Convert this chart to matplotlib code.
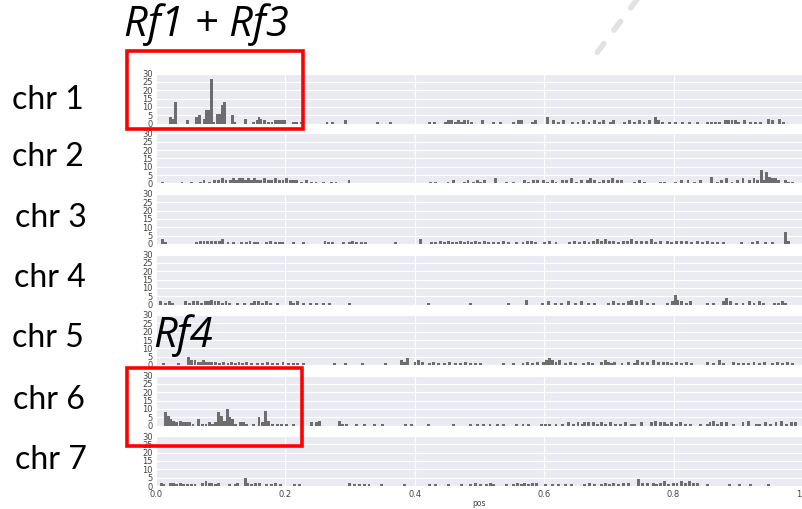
import numpy as np
import matplotlib.pyplot as plt
from matplotlib.lines import Line2D
from matplotlib.patches import Rectangle

# Data: bin position (0-1 along chromosome) and count per bin
chr1_pos = [0.020, 0.024, 0.028, 0.047, 0.060, 0.065, 0.072, 0.076, 0.080, 0.083, 0.087,
            0.093, 0.097, 0.100, 0.104, 0.116, 0.119, 0.136, 0.148, 0.154, 0.157, 0.160,
            0.165, 0.172, 0.177, 0.182, 0.187, 0.192, 0.196, 0.210, 0.215, 0.222, 0.262,
            0.270, 0.290, 0.340, 0.360, 0.420, 0.428, 0.445, 0.450, 0.455, 0.460, 0.465,
            0.470, 0.475, 0.480, 0.486, 0.502, 0.520, 0.530, 0.550, 0.558, 0.562, 0.580,
            0.585, 0.603, 0.612, 0.620, 0.628, 0.642, 0.650, 0.658, 0.667, 0.675, 0.683,
            0.690, 0.700, 0.705, 0.722, 0.730, 0.738, 0.745, 0.752, 0.760, 0.770, 0.774,
            0.780, 0.792, 0.800, 0.812, 0.822, 0.835, 0.850, 0.856, 0.862, 0.868, 0.878,
            0.883, 0.888, 0.893, 0.898, 0.908, 0.916, 0.924, 0.932, 0.944, 0.950, 0.962,
            0.968]
chr1_cnt = [4, 3, 13, 2, 4, 5, 3, 8, 8, 27, 1,
            6, 6, 11, 13, 5, 1, 3, 1, 2, 4, 3,
            2, 1, 1, 2, 2, 2, 2, 1, 1, 1, 1,
            1, 2, 1, 1, 1, 1, 1, 2, 2, 1, 2,
            1, 2, 2, 1, 2, 1, 1, 1, 2, 2, 1,
            2, 4, 2, 1, 2, 1, 1, 2, 1, 2, 1,
            2, 1, 2, 1, 2, 1, 2, 1, 2, 4, 2,
            1, 1, 1, 1, 1, 1, 1, 1, 1, 1, 2,
            2, 2, 2, 1, 2, 1, 1, 1, 3, 2, 3,
            1]

chr2_pos = [0.008, 0.038, 0.053, 0.066, 0.072, 0.081, 0.088, 0.094, 0.100, 0.106, 0.113,
            0.117, 0.122, 0.127, 0.131, 0.136, 0.141, 0.145, 0.150, 0.155, 0.159, 0.165,
            0.171, 0.176, 0.182, 0.188, 0.194, 0.200, 0.205, 0.210, 0.215, 0.222, 0.230,
            0.238, 0.245, 0.256, 0.269, 0.276, 0.296, 0.422, 0.430, 0.449, 0.458, 0.474,
            0.480, 0.488, 0.494, 0.500, 0.506, 0.522, 0.540, 0.550, 0.567, 0.574, 0.581,
            0.588, 0.596, 0.603, 0.610, 0.616, 0.626, 0.632, 0.640, 0.648, 0.656, 0.665,
            0.670, 0.676, 0.683, 0.690, 0.697, 0.704, 0.711, 0.717, 0.737, 0.745, 0.753,
            0.778, 0.784, 0.800, 0.810, 0.820, 0.830, 0.840, 0.857, 0.865, 0.872, 0.880,
            0.888, 0.896, 0.905, 0.915, 0.922, 0.928, 0.933, 0.937, 0.941, 0.946, 0.950,
            0.955, 0.960, 0.970, 0.976, 0.982]
chr2_cnt = [1, 1, 1, 1, 2, 1, 2, 2, 3, 2, 2,
            3, 2, 3, 3, 2, 3, 2, 3, 2, 2, 3,
            2, 2, 3, 2, 2, 3, 2, 2, 2, 1, 2,
            1, 1, 1, 1, 1, 2, 1, 1, 1, 2, 1,
            2, 1, 2, 1, 2, 3, 1, 1, 2, 1, 2,
            2, 2, 1, 2, 1, 2, 2, 3, 1, 2, 2,
            3, 2, 1, 2, 2, 3, 2, 2, 1, 2, 1,
            1, 1, 1, 2, 2, 1, 2, 4, 1, 2, 3,
            1, 2, 3, 2, 3, 2, 8, 2, 7, 4, 3,
            3, 2, 2, 1, 1]

chr3_pos = [0.008, 0.013, 0.060, 0.066, 0.072, 0.078, 0.084, 0.090, 0.096, 0.101, 0.109,
            0.117, 0.130, 0.137, 0.143, 0.150, 0.155, 0.168, 0.175, 0.182, 0.188, 0.193,
            0.210, 0.226, 0.259, 0.265, 0.271, 0.287, 0.297, 0.302, 0.308, 0.315, 0.322,
            0.368, 0.406, 0.424, 0.430, 0.437, 0.444, 0.450, 0.456, 0.462, 0.468, 0.474,
            0.480, 0.486, 0.492, 0.498, 0.505, 0.512, 0.520, 0.527, 0.535, 0.542, 0.555,
            0.565, 0.572, 0.578, 0.585, 0.598, 0.606, 0.616, 0.637, 0.645, 0.652, 0.660,
            0.667, 0.674, 0.680, 0.686, 0.692, 0.698, 0.705, 0.712, 0.720, 0.726, 0.732,
            0.740, 0.748, 0.756, 0.764, 0.770, 0.777, 0.788, 0.795, 0.802, 0.810, 0.818,
            0.826, 0.834, 0.842, 0.850, 0.858, 0.866, 0.875, 0.903, 0.920, 0.928, 0.940,
            0.950, 0.971, 0.976]
chr3_cnt = [3, 1, 1, 2, 2, 2, 2, 2, 2, 3, 1,
            1, 1, 1, 2, 1, 1, 1, 2, 1, 1, 1,
            1, 1, 2, 1, 1, 1, 1, 2, 1, 1, 1,
            1, 3, 1, 1, 2, 1, 2, 1, 1, 2, 1,
            2, 1, 2, 1, 2, 1, 1, 1, 2, 1, 1,
            1, 2, 2, 1, 1, 2, 1, 1, 2, 1, 2,
            1, 2, 3, 2, 3, 2, 2, 1, 2, 2, 3,
            2, 2, 2, 3, 1, 2, 2, 1, 2, 2, 2,
            1, 2, 1, 2, 1, 1, 1, 1, 1, 2, 1,
            1, 7, 2]

chr4_pos = [0.005, 0.012, 0.018, 0.023, 0.043, 0.050, 0.056, 0.062, 0.068, 0.074, 0.079,
            0.084, 0.089, 0.094, 0.100, 0.106, 0.112, 0.124, 0.134, 0.145, 0.150, 0.156,
            0.162, 0.168, 0.175, 0.185, 0.205, 0.210, 0.216, 0.226, 0.236, 0.246, 0.256,
            0.266, 0.297, 0.419, 0.484, 0.542, 0.570, 0.595, 0.605, 0.615, 0.625, 0.636,
            0.646, 0.656, 0.666, 0.676, 0.697, 0.705, 0.713, 0.721, 0.728, 0.733, 0.740,
            0.748, 0.758, 0.766, 0.788, 0.796, 0.800, 0.804, 0.810, 0.817, 0.824, 0.850,
            0.860, 0.875, 0.880, 0.885, 0.895, 0.905, 0.915, 0.922, 0.930, 0.937, 0.953,
            0.960, 0.966, 0.971]
chr4_cnt = [2, 1, 2, 1, 2, 1, 2, 2, 1, 2, 2,
            3, 2, 2, 1, 2, 1, 1, 1, 1, 2, 2,
            1, 2, 1, 1, 2, 1, 2, 1, 1, 1, 1,
            1, 1, 1, 1, 1, 3, 1, 2, 1, 1, 2,
            1, 2, 1, 1, 1, 2, 1, 1, 2, 3, 2,
            3, 1, 1, 1, 2, 6, 3, 2, 1, 2, 1,
            1, 2, 4, 2, 1, 1, 2, 1, 2, 1, 1,
            1, 2, 1]

chr5_pos = [0.010, 0.033, 0.048, 0.053, 0.058, 0.063, 0.066, 0.071, 0.075, 0.079, 0.084,
            0.090, 0.096, 0.102, 0.109, 0.114, 0.120, 0.126, 0.132, 0.138, 0.145, 0.155,
            0.162, 0.170, 0.178, 0.186, 0.194, 0.202, 0.210, 0.216, 0.226, 0.273, 0.291,
            0.317, 0.352, 0.377, 0.382, 0.387, 0.398, 0.404, 0.410, 0.420, 0.427, 0.434,
            0.444, 0.452, 0.460, 0.468, 0.476, 0.484, 0.492, 0.500, 0.535, 0.550, 0.565,
            0.572, 0.580, 0.588, 0.596, 0.601, 0.606, 0.611, 0.616, 0.621, 0.630, 0.638,
            0.646, 0.659, 0.666, 0.672, 0.687, 0.692, 0.697, 0.702, 0.707, 0.718, 0.728,
            0.738, 0.742, 0.750, 0.758, 0.766, 0.774, 0.782, 0.788, 0.794, 0.802, 0.810,
            0.818, 0.826, 0.850, 0.860, 0.868, 0.875, 0.890, 0.898, 0.906, 0.914, 0.922,
            0.930, 0.938, 0.950, 0.958, 0.966, 0.974, 0.982]
chr5_cnt = [1, 1, 5, 3, 3, 2, 2, 3, 2, 2, 2,
            2, 1, 2, 1, 2, 1, 2, 1, 2, 1, 1,
            1, 2, 1, 1, 2, 1, 1, 1, 1, 1, 1,
            1, 1, 3, 2, 4, 2, 3, 2, 1, 2, 1,
            1, 2, 1, 1, 2, 1, 1, 1, 1, 1, 1,
            2, 1, 2, 2, 3, 4, 3, 2, 3, 1, 2,
            1, 1, 2, 1, 2, 3, 2, 1, 2, 1, 2,
            1, 3, 2, 2, 3, 2, 2, 2, 1, 2, 1,
            2, 1, 2, 1, 3, 1, 2, 1, 1, 1, 2,
            1, 2, 1, 2, 1, 2, 1]

chr6_pos = [0.013, 0.017, 0.021, 0.025, 0.030, 0.035, 0.040, 0.045, 0.050, 0.055, 0.063,
            0.070, 0.075, 0.080, 0.085, 0.090, 0.095, 0.099, 0.103, 0.108, 0.112, 0.116,
            0.120, 0.128, 0.133, 0.137, 0.148, 0.157, 0.162, 0.167, 0.171, 0.178, 0.185,
            0.192, 0.200, 0.210, 0.238, 0.246, 0.251, 0.281, 0.286, 0.292, 0.307, 0.320,
            0.335, 0.348, 0.383, 0.393, 0.419, 0.457, 0.484, 0.494, 0.504, 0.514, 0.525,
            0.535, 0.555, 0.565, 0.573, 0.594, 0.600, 0.606, 0.616, 0.626, 0.636, 0.643,
            0.650, 0.657, 0.660, 0.666, 0.674, 0.680, 0.687, 0.692, 0.700, 0.708, 0.716,
            0.724, 0.732, 0.738, 0.748, 0.763, 0.770, 0.777, 0.783, 0.788, 0.795, 0.802,
            0.808, 0.816, 0.824, 0.839, 0.850, 0.854, 0.860, 0.865, 0.872, 0.880, 0.890,
            0.905, 0.913, 0.926, 0.930, 0.940, 0.948, 0.956, 0.964, 0.972, 0.980, 0.986]
chr6_cnt = [8, 6, 4, 3, 2, 3, 2, 2, 2, 1, 4,
            1, 1, 2, 1, 2, 8, 6, 3, 10, 5, 4,
            1, 2, 2, 1, 1, 5, 2, 9, 3, 1, 1,
            1, 1, 1, 2, 2, 3, 3, 1, 1, 1, 1,
            1, 1, 1, 1, 1, 1, 1, 1, 1, 1, 1,
            1, 1, 1, 1, 1, 1, 1, 1, 1, 2, 1,
            2, 1, 2, 2, 2, 1, 2, 1, 2, 1, 1,
            2, 1, 1, 2, 2, 3, 2, 2, 1, 2, 1,
            2, 1, 1, 1, 1, 2, 3, 1, 2, 2, 1,
            2, 3, 1, 1, 2, 1, 2, 3, 1, 2, 2]

chr7_pos = [0.006, 0.010, 0.020, 0.025, 0.030, 0.035, 0.040, 0.046, 0.052, 0.058, 0.070,
            0.075, 0.080, 0.084, 0.090, 0.094, 0.112, 0.120, 0.124, 0.136, 0.140, 0.146,
            0.152, 0.158, 0.168, 0.176, 0.183, 0.190, 0.212, 0.220, 0.297, 0.305, 0.312,
            0.320, 0.327, 0.346, 0.382, 0.420, 0.430, 0.450, 0.470, 0.484, 0.492, 0.500,
            0.508, 0.515, 0.520, 0.540, 0.550, 0.556, 0.562, 0.568, 0.574, 0.580, 0.586,
            0.600, 0.610, 0.620, 0.630, 0.640, 0.660, 0.668, 0.676, 0.687, 0.692, 0.698,
            0.705, 0.712, 0.720, 0.728, 0.743, 0.750, 0.758, 0.766, 0.772, 0.778, 0.783,
            0.790, 0.797, 0.803, 0.810, 0.816, 0.822, 0.828, 0.834, 0.850, 0.884, 0.900,
            0.916, 0.945]
chr7_cnt = [2, 1, 2, 2, 1, 2, 1, 1, 1, 1, 2,
            3, 2, 2, 1, 2, 1, 1, 2, 5, 2, 1,
            2, 2, 1, 1, 2, 1, 1, 1, 2, 1, 1,
            1, 1, 1, 1, 1, 1, 1, 1, 1, 2, 1,
            1, 2, 1, 1, 1, 2, 1, 2, 1, 2, 2,
            1, 1, 1, 1, 1, 1, 2, 1, 1, 2, 1,
            2, 1, 2, 2, 4, 2, 2, 2, 1, 2, 3,
            1, 2, 2, 3, 2, 3, 2, 2, 1, 1, 1,
            1, 1]

chrom_labels = ["chr 1", "chr 2", "chr 3", "chr 4", "chr 5", "chr 6", "chr 7"]
positions = [chr1_pos, chr2_pos, chr3_pos, chr4_pos, chr5_pos, chr6_pos, chr7_pos]
counts = [chr1_cnt, chr2_cnt, chr3_cnt, chr4_cnt, chr5_cnt, chr6_cnt, chr7_cnt]

W, H = 803, 509
fig = plt.figure(figsize=(W / 100, H / 100), dpi=100)
fig.patch.set_facecolor('white')

panel_tops = [73.5, 133.5, 194, 254.5, 315, 375.5, 436]
panel_h = 50
x0, x1 = 156, 803

label_y = [100, 157, 218, 278, 338, 400, 460]
label_x = [12, 12, 15, 14, 12, 13, 15]

for i in range(7):
    top = panel_tops[i]
    ax = fig.add_axes([x0 / W, 1 - (top + panel_h) / H, (x1 - x0) / W, panel_h / H])
    ax.set_facecolor('#EAEAF2')
    ax.set_axisbelow(True)
    ax.grid(True, color='white', linewidth=0.8)
    ax.bar(positions[i], counts[i], width=0.0045, align='edge', color='#6d6d6d',
           edgecolor='none')
    ax.set_xlim(0, 1.0)
    ax.set_ylim(0, 30)
    ax.set_yticks([0, 5, 10, 15, 20, 25, 30])
    ax.set_xticks([0.0, 0.2, 0.4, 0.6, 0.8, 1.0])
    for s in ax.spines.values():
        s.set_visible(False)
    ax.tick_params(length=0, labelsize=6, labelcolor='#444444', pad=2.5)
    ax.tick_params(axis='x', pad=3)
    if i < 6:
        ax.set_xticklabels([])
    else:
        ax.set_xlabel("pos", fontsize=5.5, color='#444444', labelpad=0)
    fig.text(label_x[i] / W, 1 - label_y[i] / H, chrom_labels[i], fontsize=23,
             family='Lato', va='center', ha='left', color='black')

# annotations
fig.text(124 / W, 1 - 25 / H, "Rf1 + Rf3", fontsize=30, style='italic',
         family='Open Sans', va='center', ha='left')
fig.text(153 / W, 1 - 336 / H, "Rf4", fontsize=30, style='italic',
         family='Open Sans', va='center', ha='left', zorder=5)

for (l, t, r, b) in [(127.5, 51, 303, 129), (127.5, 367.5, 302.5, 445.5)]:
    fig.add_artist(Rectangle((l / W, 1 - b / H), (r - l) / W, (b - t) / H,
                             transform=fig.transFigure, fill=False,
                             edgecolor='#ff0000', linewidth=2.6, zorder=10))

fig.add_artist(Line2D([638 / W, 593 / W], [1 + 2 / H, 1 - 58 / H],
                      transform=fig.transFigure, color='#e2e2e2', linewidth=4,
                      linestyle=(0, (2, 3)), dash_capstyle='round'))

fig.savefig("out.png", dpi=100)
